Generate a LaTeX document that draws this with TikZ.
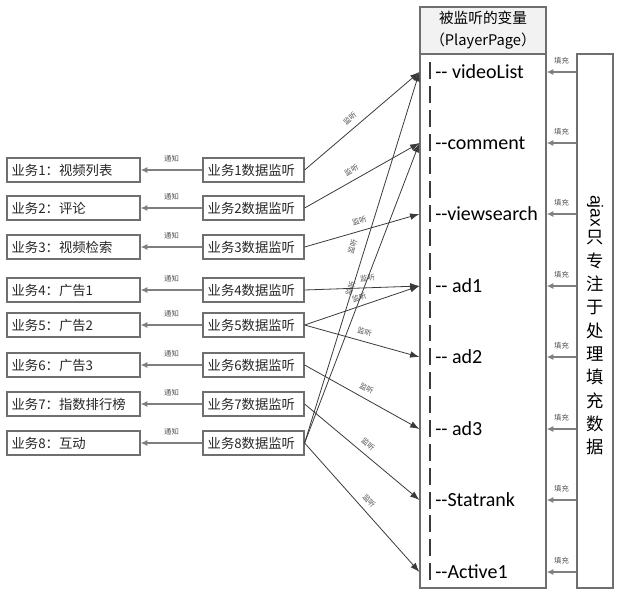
\documentclass[tikz,border=0pt]{standalone}
\usepackage{fontspec}
\setmainfont{Noto Sans CJK SC}
\newfontfamily\fieldfont{Carlito}
\newfontfamily\latinfont{Liberation Sans}
\usetikzlibrary{arrows.meta}
\definecolor{boxgray}{HTML}{6F6F6F}
\definecolor{linkgray}{HTML}{3A3A3A}
\definecolor{flowgray}{HTML}{7F7F7F}
\definecolor{headfill}{HTML}{F2F2F2}
\definecolor{tagtext}{HTML}{505050}
\begin{document}
\begin{tikzpicture}[x=0.75pt,y=-0.75pt,
  box/.style={draw=boxgray, line width=0.9pt, fill=white, minimum height=18pt,
    inner xsep=3.5pt, inner ysep=0pt, font=\fontsize{10}{12}\selectfont, text=black!85},
  bizbox/.style={box, text width=92.75pt, align=left},
  watchbox/.style={box, text width=68.75pt, align=left},
  field/.style={anchor=west, inner sep=0pt, font=\fieldfont\fontsize{15}{18}\selectfont},
  tag/.style={font=\fontsize{5.5}{6}\selectfont, text=tagtext, inner sep=0.5pt},
  notify/.style={draw=flowgray, line width=1.2pt, -{Latex[length=5pt,width=4.5pt]}},
  fillarrow/.style={draw=flowgray, line width=1.2pt, -{Latex[length=5pt,width=4.5pt]}},
  watch/.style={draw=linkgray, line width=0.6pt, -{Latex[length=7pt,width=5pt]}},
]
\useasboundingbox (0,0) rectangle (620,596);

% variable container with its header
\node[draw=boxgray, line width=0.9pt, fill=white, minimum width=94.5pt,
  minimum height=400.5pt, inner sep=0pt] (main) at (483,321) {};
\node[draw=boxgray, line width=0.9pt, fill=headfill, minimum width=94.5pt,
  minimum height=35.25pt, align=center, inner sep=0pt,
  font=\fontsize{11}{16.5}\selectfont] (head) at (483,30.5)
  {被监听的变量\\（PlayerPage）};

% ajax filler column, its caption written top to bottom
\node[draw=boxgray, line width=0.9pt, fill=white, minimum width=27pt,
  minimum height=400.5pt, inner sep=0pt] (ajax) at (595,321) {};
\node[rotate=-90, inner sep=0pt, font=\latinfont\fontsize{13}{15}\selectfont]
  (ajaxword) at (595,211) {ajax};
\node[align=center, inner sep=0pt, font=\fontsize{13}{17.5}\selectfont]
  (ajaxtext) at (595,343)
  {只\\专\\注\\于\\处\\理\\填\\充\\数\\据};

% dashed spine of the field list
\draw[linkgray, line width=1.6pt, dash pattern=on 12.7pt off 5.2pt]
  (430,62) -- (430,585);

% fields
\node[field] (f1) at (435,72)  {-- videoList};
\node[field] (f2) at (435,143) {--comment};
\node[field] (f3) at (435,214) {--viewsearch};
\node[field] (f4) at (435,286) {-- ad1};
\node[field] (f5) at (435,357) {-- ad2};
\node[field] (f6) at (435,429) {-- ad3};
\node[field] (f7) at (435,500) {--Statrank};
\node[field] (f8) at (435,572) {--Active1};

% business boxes and their listeners
\node[bizbox] (b1) at (73.5,170) {业务1：视频列表};
\node[bizbox] (b2) at (73.5,208) {业务2：评论};
\node[bizbox] (b3) at (73.5,247) {业务3：视频检索};
\node[bizbox] (b4) at (73.5,290) {业务4：广告1};
\node[bizbox] (b5) at (73.5,325) {业务5：广告2};
\node[bizbox] (b6) at (73.5,365) {业务6：广告3};
\node[bizbox] (b7) at (73.5,404) {业务7：指数排行榜};
\node[bizbox] (b8) at (73.5,443) {业务8：互动};

\foreach \i/\y in {1/170,2/208,3/247,4/290,5/325,6/365,7/404,8/443} {
  \node[watchbox] (w\i) at (253.5,\y) {业务\i 数据监听};
  \draw[notify] (w\i) -- node[tag, above=4.5pt] {通知} (b\i);
}

% listeners watching fields
\draw[watch] (w1.east) -- node[tag, sloped, above=4pt, pos=0.45] {监听} (main.west |- f1);
\draw[watch] (w2.east) -- node[tag, sloped, above=4pt, pos=0.45] {监听} (main.west |- f2);
\draw[watch] (w3.east) -- node[tag, sloped, above=4pt] {监听} (main.west |- f3);
\draw[watch] (w4.east) -- node[tag, sloped, above=4pt, pos=0.55] {监听} (main.west |- f4);
\draw[watch] (w5.east) -- node[tag, sloped, above=3pt, pos=0.5] {监听} (main.west |- f4);
\draw[watch] (w5.east) -- node[tag, sloped, above=4pt] {监听} (main.west |- f5);
\draw[watch] (w6.east) -- node[tag, sloped, above=4pt, pos=0.5] {监听} (main.west |- f6);
\draw[watch] (w7.east) -- node[tag, sloped, above=4pt, pos=0.5] {监听} (main.west |- f7);
\draw[watch] (w8.east) -- node[tag, sloped, above=4pt, pos=0.5] {监听} (main.west |- f8);
\draw[watch] (w8.east) -- node[tag, sloped, above=6pt, pos=0.52] {监听} (main.west |- f1);
\draw[watch] (w8.east) -- node[tag, sloped, above=6pt, pos=0.5] {监听} (main.west |- f2);

% ajax filling every field
\foreach \k in {1,...,8} {
  \draw[fillarrow] (ajax.west |- f\k) -- node[tag, above=4.5pt] {填充} (main.east |- f\k);
}
\end{tikzpicture}
\end{document}
